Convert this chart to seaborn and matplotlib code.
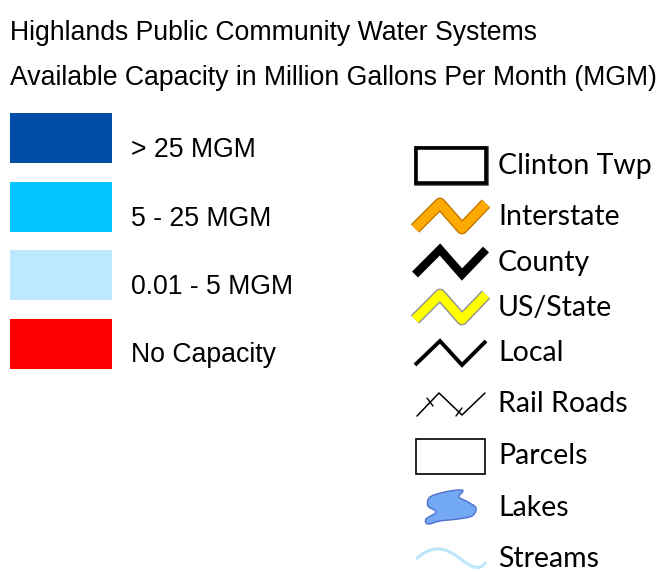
import numpy as np
import matplotlib
matplotlib.use("Agg")
import matplotlib.pyplot as plt
import seaborn as sns
from matplotlib.patches import Rectangle, PathPatch
from matplotlib.path import Path
import matplotlib.patheffects as pe

# ---- data ----
title_lines = ["Highlands Public Community Water Systems",
               "Available Capacity in Million Gallons Per Month (MGM)"]
capacity_labels = ["> 25 MGM", "5 - 25 MGM", "0.01 - 5 MGM", "No Capacity"]
capacity_colors = ["#004DA8", "#00C5FF", "#BEE8FF", "#FF0000"]
layer_labels = ["Clinton Twp", "Interstate", "County", "US/State", "Local",
                "Rail Roads", "Parcels", "Lakes", "Streams"]

sns.set_style("white")
W, H = 666, 572
fig = plt.figure(figsize=(W / 100, H / 100), dpi=100)
ax = fig.add_axes([0, 0, 1, 1])
ax.set_xlim(0, W)
ax.set_ylim(H, 0)
ax.axis("off")

left_font = ["Liberation Sans", "DejaVu Sans"]
right_font = ["Lato", "DejaVu Sans"]

# titles
for i, t in enumerate(title_lines):
    ax.text(10, 33 + i * 45, t, fontsize=19.2, family=left_font, va="center",
            ha="left", color="black")

# capacity swatches
for i, (lab, col) in enumerate(zip(capacity_labels, capacity_colors)):
    top = 113 + i * 68.5
    ax.add_patch(Rectangle((10, top), 102, 50, facecolor=col, edgecolor="none"))
    ax.text(131, top + 37, lab, fontsize=19.2, family=left_font, va="center",
            ha="left", color="black")

# right legend rows
row_y = [166, 217, 263, 308, 353, 404, 456, 508, 559]
for lab, y in zip(layer_labels, row_y):
    ax.text(498, y, lab, fontsize=20.5, family=right_font, va="center",
            ha="left", color="black")

zig = np.array([[0, 1], [25, -1], [47, 1], [71, -1]], dtype=float)

def zigzag(y0, amp, x0=415):
    return x0 + zig[:, 0], y0 + zig[:, 1] * amp

# Clinton Twp
ax.add_patch(Rectangle((416, 148), 70, 35, facecolor="white", edgecolor="black", lw=2.6,
                       path_effects=[pe.withStroke(linewidth=3.4, foreground="#555555")]))
# Interstate
x, y = zigzag(216, 12.5)
ax.plot(x, y, color="#FFAA00", lw=6.5, solid_joinstyle="round", solid_capstyle="butt",
        path_effects=[pe.Stroke(linewidth=8.5, foreground="#C07800"), pe.Normal()])
# County
x, y = zigzag(262, 12.5)
ax.plot(x, y, color="black", lw=6, solid_joinstyle="miter", solid_capstyle="butt")
# US/State
x, y = zigzag(307, 12.5)
ax.plot(x, y, color="#FFFF00", lw=6.5, solid_joinstyle="round", solid_capstyle="butt",
        path_effects=[pe.Stroke(linewidth=8.5, foreground="#909090"), pe.Normal()])
# Local
x, y = zigzag(353, 12)
ax.plot(x, y, color="black", lw=2.8, solid_joinstyle="miter", solid_capstyle="butt")
# Rail Roads
rx = np.array([417, 439, 462, 485], dtype=float)
ry = np.array([416, 393, 415, 393], dtype=float)
ax.plot(rx, ry, color="black", lw=1.1)
ax.plot([427, 433], [398, 406], color="black", lw=1.0)
ax.plot([456, 462], [416, 408], color="black", lw=1.0)
# Parcels
ax.add_patch(Rectangle((416, 439), 69, 35, facecolor="white", edgecolor="black", lw=1.2))

# Lakes blob (closed Catmull-Rom through outline points)
pts = np.array([(430, 497), (445, 492), (458, 490), (463, 491), (459, 497),
                (468, 502), (476, 508), (472, 516), (458, 519), (440, 521),
                (428, 524), (426, 519), (436, 512), (428, 506)], dtype=float)
n = len(pts)
curve = []
for i in range(n):
    p0, p1, p2, p3 = pts[(i - 1) % n], pts[i], pts[(i + 1) % n], pts[(i + 2) % n]
    for t in np.linspace(0, 1, 12, endpoint=False):
        t2, t3 = t * t, t * t * t
        curve.append(0.5 * ((2 * p1) + (-p0 + p2) * t + (2 * p0 - 5 * p1 + 4 * p2 - p3) * t2
                            + (-p0 + 3 * p1 - 3 * p2 + p3) * t3))
curve = np.array(curve)
ax.fill(curve[:, 0], curve[:, 1], facecolor="#73A9F2", edgecolor="#4F6FD0", lw=1.0)

# Streams
sverts = [(416, 559), (428, 548), (440, 545), (455, 555), (468, 564), (478, 574), (486, 562)]
scodes = [Path.MOVETO] + [Path.CURVE4] * 6
ax.add_patch(PathPatch(Path(sverts, scodes), facecolor="none", edgecolor="#BEE6FA", lw=2.2))

fig.savefig("out.png", dpi=100)
